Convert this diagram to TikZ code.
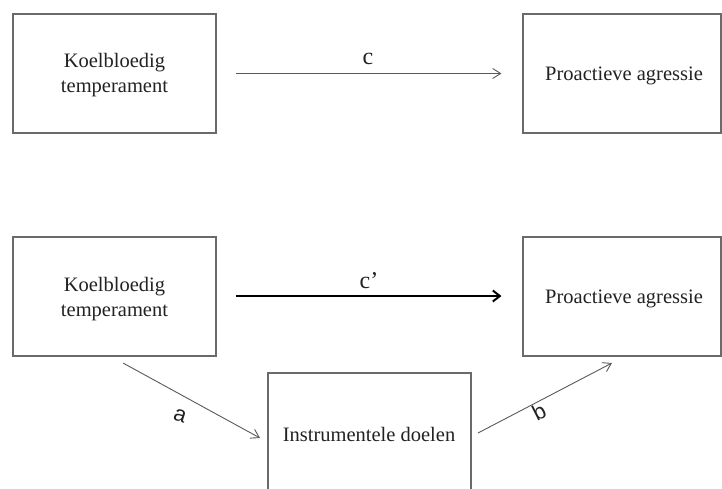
\documentclass[tikz,border=0pt]{standalone}
\usepackage{fontspec}
\setmainfont{Liberation Serif}
\newfontfamily\labsans{Liberation Sans}
\usetikzlibrary{arrows.meta}
\definecolor{boxline}{HTML}{6A6A6A}
\definecolor{arrline}{HTML}{5A5A5A}
\definecolor{txt}{HTML}{222222}
\tikzset{
  varbox/.style={draw=boxline, line width=1.1pt, rectangle, inner sep=0pt},
  boxtext/.style={text=txt, font=\fontsize{20.5}{25}\selectfont, align=center, inner sep=0pt},
  thinarrow/.style={draw=arrline, line width=0.9pt, -{Straight Barb[length=8pt,width=10pt,line width=0.9pt]}},
  thickarrow/.style={draw=black, line width=2pt, -{Straight Barb[length=7pt,width=11pt,line width=2pt]}},
  pathlabel/.style={text=txt, inner sep=0pt},
}
\begin{document}
\begin{tikzpicture}[x=1pt,y=-1pt]
\useasboundingbox (0,0) rectangle (722,488);
\clip (0,0) rectangle (722,488);
\fill[white] (0,0) rectangle (722,488);
% boxes
\node[varbox, minimum width=203pt, minimum height=119pt] (TL) at (114.5,73.5) {};
\node[varbox, minimum width=198pt, minimum height=119pt] (TR) at (622,73.5) {};
\node[varbox, minimum width=203pt, minimum height=119pt] (BL) at (114.5,296.5) {};
\node[varbox, minimum width=198pt, minimum height=119pt] (BR) at (622,296.5) {};
\node[varbox, minimum width=203pt, minimum height=130pt] (M) at (369.5,438) {};
% texts
\node[boxtext] (TLt) at (114.5,75) {Koelbloedig\\temperament};
\node[boxtext] (TRt) at (624,76) {Proactieve agressie};
\node[boxtext] (BLt) at (114.5,299) {Koelbloedig\\temperament};
\node[boxtext] (BRt) at (624,299) {Proactieve agressie};
\node[boxtext] (Mt) at (369,434) {Instrumentele doelen};
% connectors
\draw[thinarrow] ([shift={(19,0)}]TL.east) -- ([shift={(-21,0)}]TR.west);
\draw[thickarrow] ([shift={(19,-0.5)}]BL.east) -- ([shift={(-21,-0.5)}]BR.west);
\coordinate (aS) at (123,363);
\coordinate (aE) at (260,438);
\coordinate (bS) at (478,433);
\coordinate (bE) at (612,363);
\draw[thinarrow] (aS) -- (aE);
\draw[thinarrow] (bS) -- (bE);
% labels
\node[pathlabel, font=\fontsize{24}{26}\selectfont] (lc) at (368,59) {c};
\node[pathlabel, font=\fontsize{24}{26}\selectfont] (lcp) at (369,281) {c’};
\node[pathlabel, font=\labsans\fontsize{22}{24}\selectfont, rotate=-18] (la) at (180,416) {a};
\node[pathlabel, font=\labsans\fontsize{22}{24}\selectfont, rotate=27] (lb) at (539,412) {b};
\end{tikzpicture}
\end{document}
